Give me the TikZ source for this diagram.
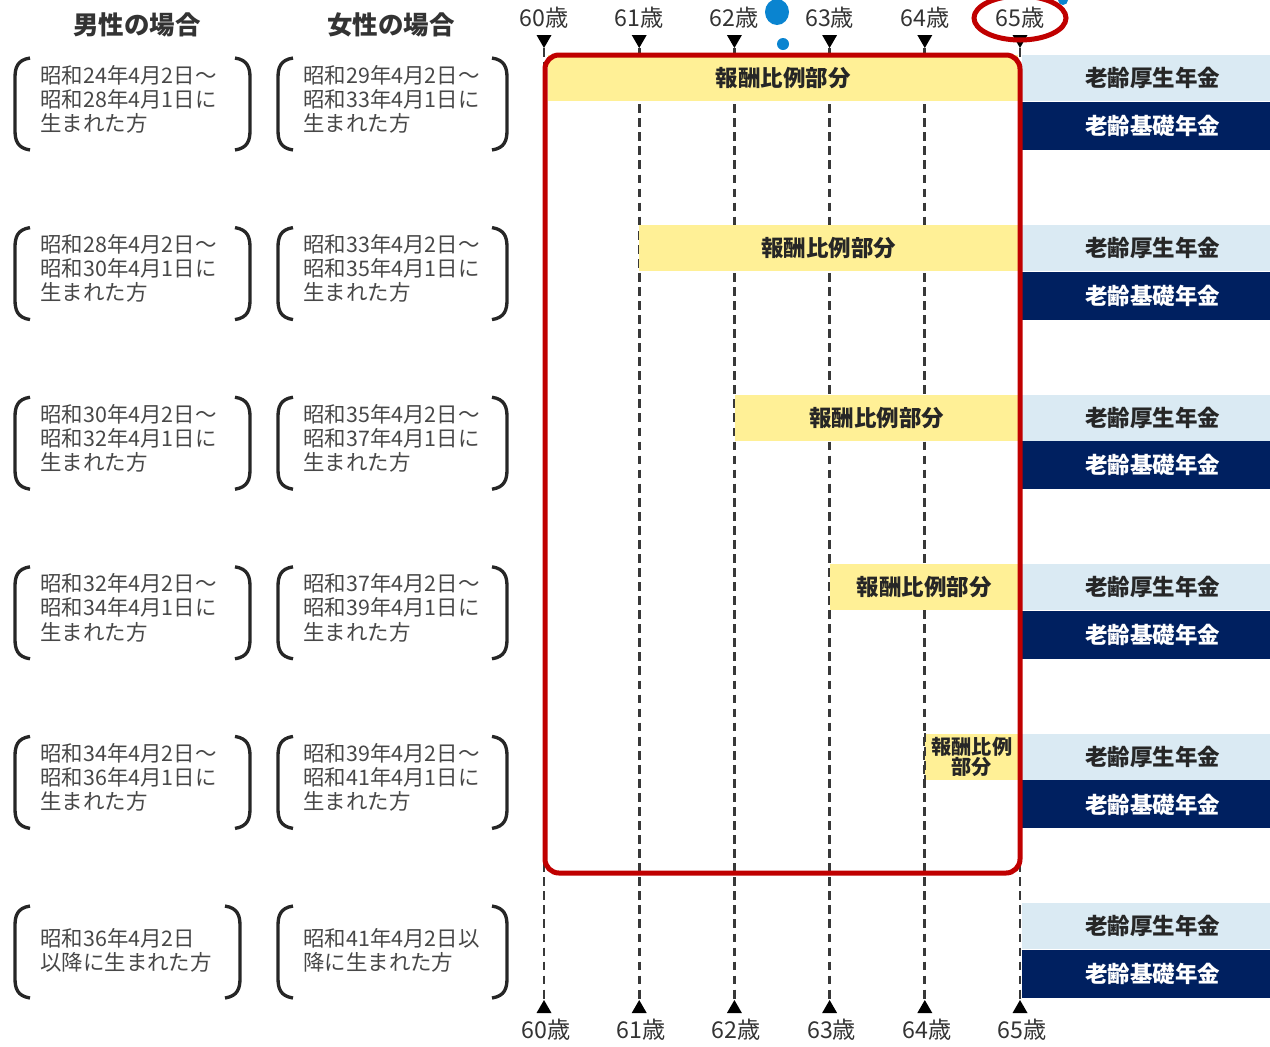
\documentclass[tikz,border=0pt]{standalone}
\usepackage{fontspec}
\setmainfont{Noto Sans CJK JP}
\usepackage{tikz}
\usepackage{xcolor}
\definecolor{pensionyellow}{RGB}{255, 240, 150}
\definecolor{pensionlight}{RGB}{218, 234, 243}
\definecolor{pensionnavy}{RGB}{0, 32, 96}
\definecolor{pensionred}{RGB}{192, 0, 0}
\definecolor{pensiondot}{RGB}{10, 132, 208}
\usetikzlibrary{shapes.geometric,calc,positioning}

\begin{document}
\begin{tikzpicture}[x=0.02cm, y=-0.02cm,
    agelabel/.style={font=\fontsize{13.2}{14}\selectfont, text=black!80, inner sep=0},
    header/.style={font=\fontsize{14.5}{16}\selectfont\bfseries, text=black!80},
    birthtext/.style={font=\fontsize{12.2}{13.7}\selectfont, text=black!72, align=left, anchor=west, inner sep=0},
    paren/.style={line width=1.9pt, black!85},
    ageline/.style={dash pattern=on 5pt off 3pt, line width=1.5pt, black!78},
    propbar/.style={fill=pensionyellow, minimum height=0.92cm, inner sep=0, anchor=north west, font=\fontsize{12.8}{14}\selectfont\bfseries, text=black!85},
    kouseibar/.style={fill=pensionlight, minimum width=4.96cm, minimum height=0.92cm, inner sep=0, anchor=north west, font=\fontsize{12.8}{14}\selectfont\bfseries, text=black!85},
    kisobar/.style={fill=pensionnavy, minimum width=4.96cm, minimum height=0.96cm, inner sep=0, anchor=north, font=\fontsize{12.8}{14}\selectfont\bfseries, text=white}]
    \useasboundingbox (0,0) rectangle (1270,1046);

    % Column headers
    \node[header] (male) at (137,25) {男性の場合};
    \node[header] (female) at (391,25) {女性の場合};

    % Age axis
    \foreach \a in {0,...,5} {
        \pgfmathsetmacro\ax{544+95.2*\a}
        \node[agelabel] (top\a) at (\ax,18) {6{\a}歳};
        \coordinate (tip\a) at (\ax,48);
        \coordinate (foot\a) at (\ax,1000);
        \fill (\ax-7.5,35) -- (\ax+7.5,35) -- (tip\a) -- cycle;
        \fill (\ax-7.5,1013) -- (\ax+7.5,1013) -- (foot\a) -- cycle;
        \draw[ageline] (tip\a) -- (foot\a);
        \node[agelabel] (bottom\a) at (\ax+2,1030) {6{\a}歳};
    }

    % Birth date brackets
    \foreach \i/\mr in {0/250,1/250,2/250,3/250,4/250,5/240} {
        \pgfmathsetmacro\bt{58+169.6*\i}
        \pgfmathsetmacro\bb{\bt+92}
        \foreach \l/\r in {15/\mr, 278/507} {
            \draw[paren] (\l+15,\bt) .. controls (\l+2,\bt+2) and (\l,\bt+10) .. (\l,\bt+20) -- (\l,\bb-20) .. controls (\l,\bb-10) and (\l+2,\bb-2) .. (\l+15,\bb);
            \draw[paren] (\r-15,\bt) .. controls (\r-2,\bt+2) and (\r,\bt+10) .. (\r,\bt+20) -- (\r,\bb-20) .. controls (\r,\bb-10) and (\r-2,\bb-2) .. (\r-15,\bb);
        }
    }
    \foreach \i/\ma/\mb/\fa/\fb in {0/24/28/29/33, 1/28/30/33/35, 2/30/32/35/37, 3/32/34/37/39, 4/34/36/39/41} {
        \pgfmathsetmacro\bt{58+169.6*\i}
        \node[birthtext] (malebirth\i) at (40,\bt+41) {昭和{\ma}年4月2日～\\昭和{\mb}年4月1日に\\生まれた方};
        \node[birthtext] (femalebirth\i) at (303,\bt+41) {昭和{\fa}年4月2日～\\昭和{\fb}年4月1日に\\生まれた方};
    }
    \node[birthtext] (malebirth5) at (40,950) {昭和36年4月2日\\以降に生まれた方};
    \node[birthtext] (femalebirth5) at (303,950) {昭和41年4月2日以\\降に生まれた方};

    % Proportional part
    \foreach \i/\s in {0/548,1/639,2/735,3/830} {
        \pgfmathsetmacro\t{55+169.6*\i}
        \node[propbar, minimum width={(1018-\s)*0.02cm}] (prop\i) at (\s,\t) {報酬比例部分};
    }
    \node[propbar, minimum width=1.86cm, align=center, font=\fontsize{11.5}{11.4}\selectfont\bfseries] (prop4) at (925,733.4) {報酬比例\\部分};
    \draw[ageline] (925,733) -- (925,780);

    % Old-age pensions
    \foreach \i in {0,...,5} {
        \pgfmathsetmacro\t{55+169.6*\i}
        \node[kouseibar] (kousei\i) at (1022,\t) {\hspace*{0.25cm}老齢厚生年金};
        \node[kisobar] (kiso\i) at (kousei\i.south) {\hspace*{0.25cm}老齢基礎年金};
    }

    % Highlight
    \draw[pensionred, line width=2.85pt, rounded corners=0.28cm] (545,55) rectangle (1020,873);
    \draw[pensionred, line width=2.85pt] (top5) ellipse [x radius=46, y radius=22];

    % Markers
    \fill[pensiondot] (777,12) ellipse [x radius=12, y radius=13];
    \fill[pensiondot] (783,44) circle [radius=6];
    \fill[pensiondot] (1063,0) circle [radius=5];
\end{tikzpicture}
\end{document}
